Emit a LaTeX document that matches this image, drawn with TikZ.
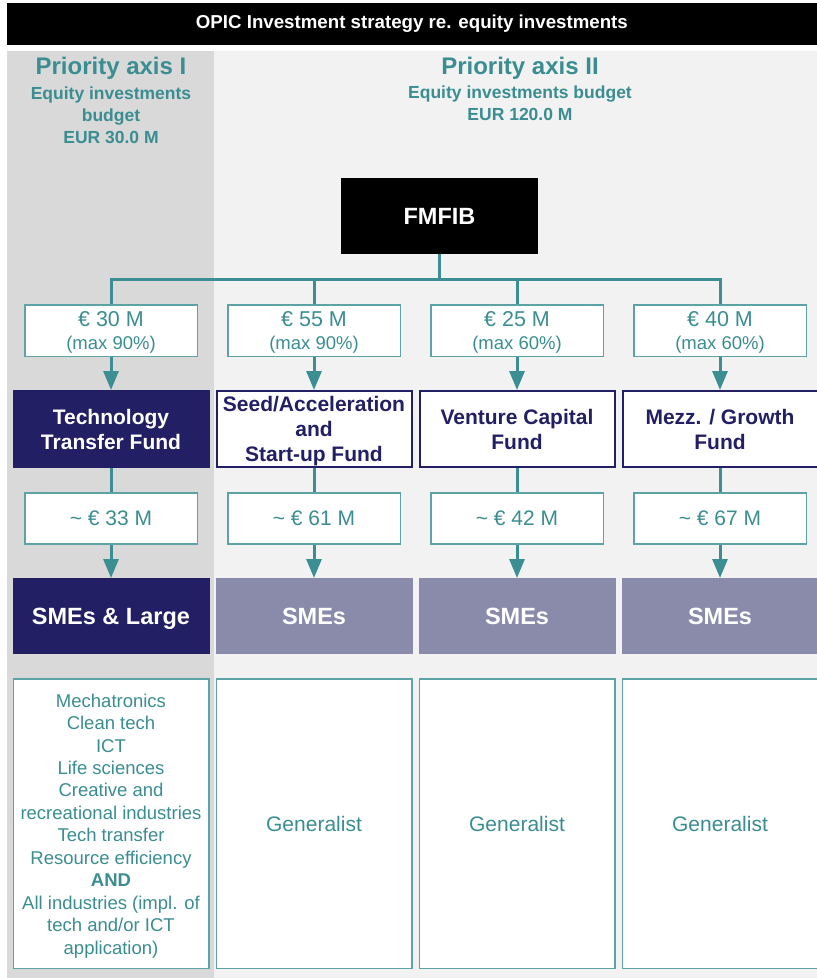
\documentclass[tikz,border=0pt]{standalone}
\usepackage{fontspec}
\setmainfont{Liberation Sans}
\usetikzlibrary{positioning,arrows.meta}

\definecolor{opicteal}{HTML}{3A8D91}
\definecolor{opicline}{HTML}{3B8F93}
\definecolor{opicframe}{HTML}{5CA3A6}
\definecolor{opicnavy}{HTML}{221F64}
\definecolor{opiclilac}{HTML}{8A8AAB}
\definecolor{panelone}{HTML}{D9D9D9}
\definecolor{paneltwo}{HTML}{F2F2F2}

\newcommand{\amtlabel}[2]{€ #1 M\\{\fontsize{18.5}{23.5}\selectfont (max #2\%)}}

\begin{document}
\begin{tikzpicture}[x=1pt,y=-1pt,
    amount node/.style={draw=opicframe,line width=1.5pt,fill=white,text=opicteal,minimum width=172.5pt,minimum height=51.5pt,inner sep=0pt,align=center,text depth=0pt,font=\fontsize{21.5}{23.5}\selectfont},
    sum node/.style={draw=opicframe,line width=1.5pt,fill=white,text=opicteal,minimum width=172.5pt,minimum height=51pt,inner sep=0pt,font=\fontsize{21}{25}\selectfont},
    fund node/.style={draw=opicnavy,line width=2pt,fill=white,text=opicnavy,minimum width=195pt,minimum height=76pt,inner sep=0pt,align=center,font=\fontsize{21}{25}\selectfont\bfseries},
    target node/.style={fill=opiclilac,text=white,minimum width=197pt,minimum height=76pt,inner sep=0pt,text height=17pt,text depth=0pt,font=\fontsize{23.5}{28}\selectfont\bfseries},
    sector node/.style={draw=opicframe,line width=1.5pt,fill=white,text=opicteal,minimum width=195.5pt,minimum height=289.5pt,inner sep=0pt,align=center,font=\fontsize{18.5}{22.45}\selectfont},
    link/.style={draw,color=opicline,line width=3pt},
    flow arrow/.style={-{Triangle[width=15pt,length=19pt,fill=opicline]}}]

    \useasboundingbox (0,0) rectangle (817,978);
    \fill[white] (0,0) rectangle (817,978);
    % the two priority axes
    \fill[panelone] (6.8,50.5) rectangle (213.6,978);
    \fill[paneltwo] (213.6,50.5) rectangle (817,978);

    \node[fill=black,text=white,minimum width=810.2pt,minimum height=42.3pt,inner sep=0pt,font=\fontsize{18.7}{22}\selectfont\bfseries] (title) at (411.9,23.9) {OPIC Investment strategy re. equity investments};

    \node[text=opicteal,font=\fontsize{24}{28}\selectfont\bfseries] (axisI) at (111,68) {Priority axis I};
    \node[text=opicteal,align=center,font=\fontsize{17.5}{22}\selectfont\bfseries] (budgetI) at (111,115) {Equity investments\\budget\\EUR 30.0 M};
    \node[text=opicteal,font=\fontsize{24}{28}\selectfont\bfseries] (axisII) at (520,68) {Priority axis II};
    \node[text=opicteal,align=center,font=\fontsize{17.5}{22}\selectfont\bfseries] (budgetII) at (520,103.5) {Equity investments budget\\EUR 120.0 M};

    \node[fill=black,text=white,minimum width=197pt,minimum height=75.5pt,inner sep=0pt,font=\fontsize{23.5}{28}\selectfont\bfseries] (fmfib) at (439.5,216) {FMFIB};

    % funds
    \node[fund node,fill=opicnavy,text=white] (f1) at (111,429) {Technology\\Transfer Fund};
    \node[fund node,right=6pt of f1,text depth=0pt] (f2) {Seed/Acceleration\\and\\Start-up Fund};
    \node[fund node,right=6pt of f2] (f3) {Venture Capital\\Fund};
    \node[fund node,right=6pt of f3] (f4) {Mezz. / Growth\\Fund};

    \node[amount node,above=33pt of f1] (a1) {\amtlabel{30}{90}};
    \node[amount node,above=33pt of f2] (a2) {\amtlabel{55}{90}};
    \node[amount node,above=33pt of f3] (a3) {\amtlabel{25}{60}};
    \node[amount node,above=33pt of f4] (a4) {\amtlabel{40}{60}};

    \node[sum node,below=24pt of f1] (m1) {\textasciitilde{} € 33 M};
    \node[sum node,below=24pt of f2] (m2) {\textasciitilde{} € 61 M};
    \node[sum node,below=24pt of f3] (m3) {\textasciitilde{} € 42 M};
    \node[sum node,below=24pt of f4] (m4) {\textasciitilde{} € 67 M};

    \node[target node,fill=opicnavy,below=33.5pt of m1] (t1) {SMEs \& Large};
    \node[target node,below=33.5pt of m2] (t2) {SMEs};
    \node[target node,below=33.5pt of m3] (t3) {SMEs};
    \node[target node,below=33.5pt of m4] (t4) {SMEs};

    \node[sector node,below=24pt of t1,text depth=0pt] (s1) {Mechatronics\\Clean tech\\ICT\\Life sciences\\Creative and\\recreational industries\\Tech transfer\\Resource efficiency\\\textbf{AND}\\All industries (impl. of\\tech and/or ICT\\application)};
    \node[sector node,below=24pt of t2] (s2) {\fontsize{21}{25}\selectfont Generalist};
    \node[sector node,below=24pt of t3] (s3) {\fontsize{21}{25}\selectfont Generalist};
    \node[sector node,below=24pt of t4] (s4) {\fontsize{21}{25}\selectfont Generalist};

    % FMFIB to the four funds
    \coordinate (hub) at (fmfib.south |- 0,279);
    \draw[link] (fmfib) -- (hub);
    \draw[link] (hub) -| (a1);
    \draw[link] (hub) -| (a2);
    \draw[link] (hub) -| (a3);
    \draw[link] (hub) -| (a4);

    \path[link]
    (a1) edge[flow arrow] (f1)
    (a2) edge[flow arrow] (f2)
    (a3) edge[flow arrow] (f3)
    (a4) edge[flow arrow] (f4)
    (f1) edge (m1)
    (f2) edge (m2)
    (f3) edge (m3)
    (f4) edge (m4)
    (m1) edge[flow arrow] (t1)
    (m2) edge[flow arrow] (t2)
    (m3) edge[flow arrow] (t3)
    (m4) edge[flow arrow] (t4)
    ;
\end{tikzpicture}
\end{document}
